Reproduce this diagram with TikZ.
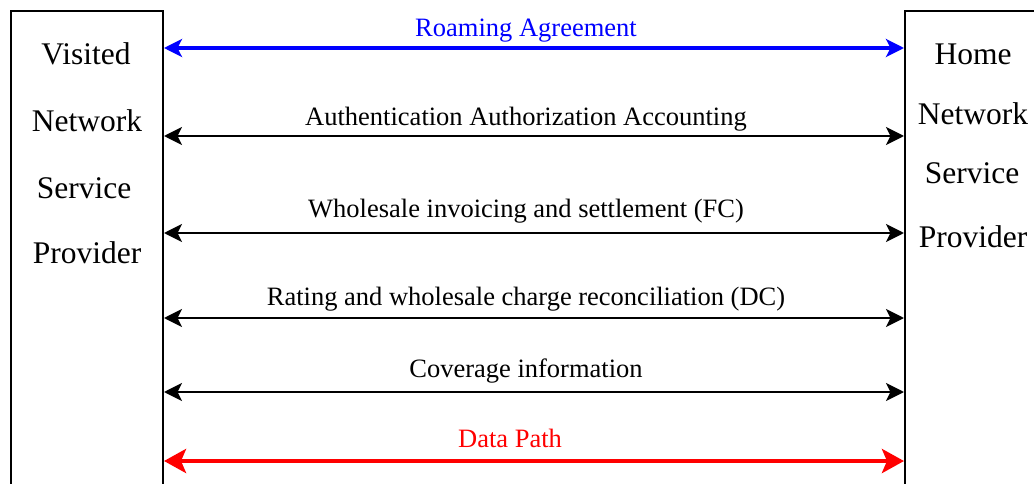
\documentclass[tikz,border=0pt]{standalone}
\usepackage{fontspec}
\setmainfont{Liberation Serif}
\usetikzlibrary{arrows.meta}
\tikzset{
  x=1pt, y=-1pt,
  provider/.style={draw=black, line width=2pt, minimum width=#1, minimum height=560pt, inner sep=0pt, anchor=north west},
  boxtext/.style={anchor=base, inner sep=0pt, font=\fontsize{31.5}{36}\selectfont},
  lbl/.style={anchor=base, inner sep=0pt, font=\fontsize{26.5}{30}\selectfont},
  link/.style={line width=2.6pt, {Stealth[length=18pt,width=18pt,inset=4.5pt]}-{Stealth[length=18pt,width=18pt,inset=4.5pt]}},
  bluelink/.style={link, blue, line width=3.2pt},
  redlink/.style={line width=4.8pt, red, {Stealth[length=22pt,width=24pt,inset=5pt]}-{Stealth[length=22pt,width=24pt,inset=5pt]}},
}
\begin{document}
\begin{tikzpicture}
\useasboundingbox (0,0) rectangle (1034,484);
\clip (0,0) rectangle (1034,484);
\node[provider=152pt] (vnsp) at (10,10) {};
\node[provider=160pt] (hnsp) at (904,10) {};
% box texts
\node[boxtext] (v1) at (86,65) {Visited};
\node[boxtext] (v2) at (87,132) {Network};
\node[boxtext] (v3) at (84,198) {Service};
\node[boxtext] (v4) at (87,263) {Provider};
\node[boxtext] (h1) at (973,65) {Home};
\node[boxtext] (h2) at (973,125) {Network};
\node[boxtext] (h3) at (972,183) {Service};
\node[boxtext] (h4) at (973,247) {Provider};
% rows
\coordinate (r1) at (0,48);
\coordinate (r2) at (0,136);
\coordinate (r3) at (0,233);
\coordinate (r4) at (0,318);
\coordinate (r5) at (0,392);
\coordinate (r6) at (0,461);
\draw[bluelink] (vnsp.east |- r1) -- (hnsp.west |- r1);
\draw[link] (vnsp.east |- r2) -- (hnsp.west |- r2);
\draw[link] (vnsp.east |- r3) -- (hnsp.west |- r3);
\draw[link] (vnsp.east |- r4) -- (hnsp.west |- r4);
\draw[link] (vnsp.east |- r5) -- (hnsp.west |- r5);
\draw[redlink] (vnsp.east |- r6) -- (hnsp.west |- r6);
% labels
\node[lbl, text=blue] (l1) at (526,37) {Roaming Agreement};
\node[lbl] (l2) at (526,126) {Authentication Authorization Accounting};
\node[lbl] (l3) at (526,218) {Wholesale invoicing and settlement (FC)};
\node[lbl] (l4) at (526,305) {Rating and wholesale charge reconciliation (DC)};
\node[lbl] (l5) at (526,377) {Coverage information};
\node[lbl, text=red] (l6) at (510,447) {Data Path};
\end{tikzpicture}
\end{document}
